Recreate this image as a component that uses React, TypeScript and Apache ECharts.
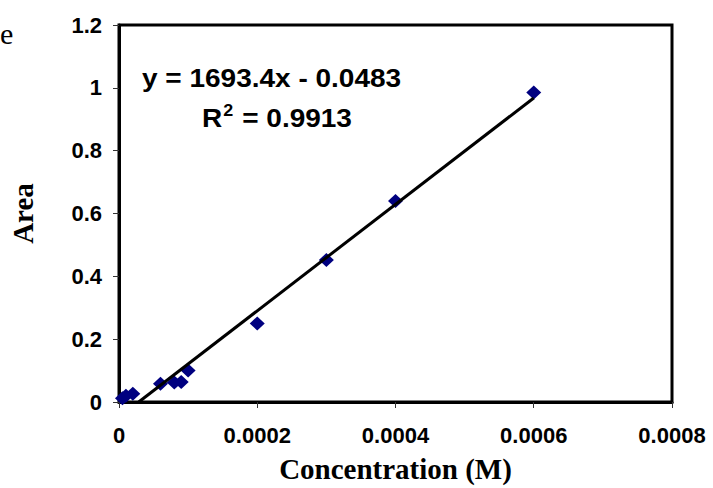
import React, { useEffect, useRef } from "react";
import * as echarts from "echarts";

const concentrations = [0.000005, 0.00001, 0.00002, 0.00006, 0.00008, 0.00009, 0.0001, 0.0002, 0.0003, 0.0004, 0.0006];
const areas = [0.012, 0.02, 0.026, 0.058, 0.062, 0.064, 0.1, 0.25, 0.452, 0.64, 0.985];
const slope = 1693.4;
const intercept = -0.0483;
const xTicks = [0, 0.0002, 0.0004, 0.0006, 0.0008];
const yTicks = [0, 0.2, 0.4, 0.6, 0.8, 1, 1.2];
const equationText = "y = 1693.4x - 0.0483";
const rSquaredValue = "0.9913";

export default function App() {
  const ref = useRef<HTMLDivElement>(null);
  useEffect(() => {
    if (!ref.current) return;
    const chart = echarts.init(ref.current, undefined, { renderer: "svg" });
    const xStart = -intercept / slope;
    const xEnd = concentrations[concentrations.length - 1];
    const trend = [
      [xStart, slope * xStart + intercept],
      [xEnd, slope * xEnd + intercept],
    ];
    const arial = "Arial, 'Liberation Sans', sans-serif";
    const times = "'Times New Roman', 'Liberation Serif', serif";
    const tickFont = { fontFamily: arial, fontWeight: "bold" as const, fontSize: 22, color: "#000" };
    chart.setOption({
      animation: false,
      backgroundColor: "#fff",
      grid: { left: 117, right: 41, top: 25, bottom: 84, show: true, borderColor: "#000", borderWidth: 3, backgroundColor: "transparent" },
      xAxis: {
        type: "value",
        min: xTicks[0],
        max: xTicks[xTicks.length - 1],
        interval: xTicks[1] - xTicks[0],
        axisLine: { show: true, lineStyle: { color: "#000", width: 3 } },
        axisTick: { show: true, length: 6, lineStyle: { color: "#333", width: 1 } },
        splitLine: { show: false },
        axisLabel: { ...tickFont, margin: 22, formatter: (v: number) => (v === 0 ? "0" : v.toFixed(4)) },
        name: "Concentration (M)",
        nameLocation: "middle",
        nameGap: 52,
        nameTextStyle: { fontFamily: times, fontWeight: "bold", fontSize: 29, color: "#000" },
      },
      yAxis: {
        type: "value",
        min: yTicks[0],
        max: yTicks[yTicks.length - 1],
        interval: yTicks[1] - yTicks[0],
        axisLine: { show: true, lineStyle: { color: "#000", width: 3 } },
        axisTick: { show: true, length: 6, lineStyle: { color: "#333", width: 1 } },
        splitLine: { show: false },
        axisLabel: { ...tickFont, margin: 17, formatter: (v: number) => String(Number(v.toFixed(1))) },
        name: "Area",
        nameLocation: "middle",
        nameGap: 82,
        nameRotate: 90,
        nameTextStyle: { fontFamily: times, fontWeight: "bold", fontSize: 29, color: "#000" },
      },
      graphic: [
        { type: "text", left: 0, top: 18, style: { text: "e", font: "30px " + times, fill: "#000" } },
        {
          type: "text", left: 142, top: 66, scaleX: 1.12,
          style: { text: equationText, font: "bold 25px " + arial, fill: "#000" },
        },
        {
          type: "text", left: 202, top: 103, scaleX: 1.12,
          style: {
            text: "{a|R}{s|2}{a| = " + rSquaredValue + "}",
            rich: {
              a: { font: "bold 25px " + arial, fill: "#000", verticalAlign: "bottom" },
              s: { font: "bold 16px " + arial, fill: "#000", verticalAlign: "top", padding: [0, 1, 12, 1] },
            },
          },
        },
      ],
      series: [
        {
          type: "scatter",
          data: concentrations.map((c, i) => [c, areas[i]]),
          symbol: "diamond",
          symbolSize: [15, 14],
          itemStyle: { color: "#000080", opacity: 1 },
          z: 2,
        },
        {
          type: "line",
          data: trend,
          showSymbol: false,
          symbol: "none",
          lineStyle: { color: "#000", width: 3 },
          z: 3,
        },
      ],
    });
    return () => chart.dispose();
  }, []);
  return <div ref={ref} style={{ width: 713, height: 488, position: "absolute", left: 0, top: 0 }} />;
}
